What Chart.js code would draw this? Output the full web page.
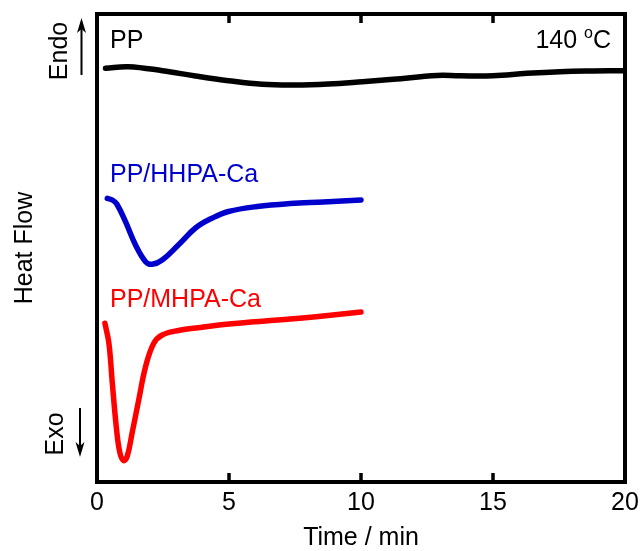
<!DOCTYPE html>
<html><head><meta charset="utf-8">
<script src="https://cdn.jsdelivr.net/npm/chart.js@4/dist/chart.umd.min.js"></script>
<style>html,body{margin:0;padding:0;background:#fff}#wrap{width:641px;height:551px}</style>
</head><body><div id="wrap"><canvas id="c" width="641" height="551"></canvas></div>
<script>
// Time (min) and heat flow (arbitrary units, offset per curve)
const ppTime   = [0.32, 1.19, 2.48, 3.73, 4.98, 6.26, 7.51, 8.76, 10.05, 11.22, 12.89, 13.75, 15.0, 16.29, 17.54, 18.79, 20.0];
const ppHeat   = [413.7, 415.3, 411.3, 406, 401.3, 397.7, 397, 398, 400.3, 402.7, 406.5, 406.2, 406.3, 408.7, 410.3, 411, 411.3];
const hhpaTime = [0.39, 0.58, 0.75, 1.08, 1.46, 1.84, 2.09, 2.47, 3.08, 3.73, 4.37, 4.98, 6.07, 7.32, 8.57, 10.0];
const hhpaHeat = [283.7, 282, 278, 260.3, 237, 220.3, 217.7, 222, 237, 254, 264, 270.5, 275.5, 278.5, 280, 282];
const mhpaTime = [0.30, 0.45, 0.58, 0.73, 0.86, 1.0, 1.14, 1.33, 1.58, 1.84, 2.15, 2.47, 3.08, 3.98, 4.79, 7.32, 8.57, 10.0];
const mhpaHeat = [158.7, 139, 99, 55.3, 30, 21.5, 25.3, 49, 82, 115.3, 138.7, 147, 151.5, 154.7, 157.5, 163, 166, 170];
const xTickValues = [0, 5, 10, 15, 20];
const seriesNames = ['PP', 'PP/HHPA-Ca', 'PP/MHPA-Ca'];
const seriesColors = ['#000000', '#0000CD', '#FF0000'];
const xTitle = 'Time / min';
const yTitle = 'Heat Flow';
const tempLabel = ['140 ', 'o', 'C'];

const FONT = '"Liberation Sans", Arial, sans-serif';
const toXY = (t, v) => t.map((x, i) => ({x: x, y: v[i]}));

const decor = {
  id: 'decor',
  afterDraw(chart) {
    const ctx = chart.ctx, ca = chart.chartArea, xs = chart.scales.x;
    ctx.save();
    // frame
    ctx.strokeStyle = '#000'; ctx.lineWidth = 4;
    ctx.strokeRect(ca.left, ca.top, ca.right - ca.left, ca.bottom - ca.top);
    // inward ticks top & bottom
    ctx.lineWidth = 3.5;
    xTickValues.forEach(v => {
      if (v === xs.min || v === xs.max) return;
      const px = xs.getPixelForValue(v);
      ctx.beginPath();
      ctx.moveTo(px, ca.bottom); ctx.lineTo(px, ca.bottom - 9);
      ctx.moveTo(px, ca.top); ctx.lineTo(px, ca.top + 9);
      ctx.stroke();
    });
    // series labels
    ctx.font = '25px ' + FONT;
    ctx.textBaseline = 'alphabetic';
    ctx.textAlign = 'left';
    const labY = [48, 181.5, 306.5];
    seriesNames.forEach((n, i) => { ctx.fillStyle = seriesColors[i]; ctx.fillText(n, 110, labY[i]); });
    // temperature label (right aligned)
    ctx.fillStyle = '#000';
    const big = '25px ' + FONT, small = '16px ' + FONT;
    ctx.font = big; const w1 = ctx.measureText(tempLabel[0]).width, w3 = ctx.measureText(tempLabel[2]).width;
    ctx.font = small; const w2 = ctx.measureText(tempLabel[1]).width;
    let x0 = 611 - (w1 + w2 + w3);
    ctx.font = big; ctx.fillText(tempLabel[0], x0, 48);
    ctx.font = small; ctx.fillText(tempLabel[1], x0 + w1, 38);
    ctx.font = big; ctx.fillText(tempLabel[2], x0 + w1 + w2, 48);
    // Endo / Exo
    const rot = (txt, x, y) => {
      ctx.save(); ctx.translate(x, y); ctx.rotate(-Math.PI / 2);
      ctx.font = '25px ' + FONT; ctx.textAlign = 'center'; ctx.textBaseline = 'alphabetic';
      ctx.fillText(txt, 0, 0); ctx.restore();
    };
    rot('Endo', 66.5, 51);
    rot('Exo', 63.3, 434);
    const arrow = (x, y1, y2) => {
      const dir = y2 < y1 ? -1 : 1;
      ctx.lineWidth = 2; ctx.beginPath(); ctx.moveTo(x, y1); ctx.lineTo(x, y2 - dir * 10); ctx.stroke();
      ctx.beginPath(); ctx.moveTo(x, y2); ctx.lineTo(x - 4.5, y2 - dir * 15); ctx.lineTo(x, y2 - dir * 11); ctx.lineTo(x + 4.5, y2 - dir * 15); ctx.closePath(); ctx.fill();
    };
    arrow(81.5, 75, 18);
    arrow(80, 408, 457);
    ctx.restore();
  }
};

new Chart(document.getElementById('c'), {
  type: 'line',
  data: {
    datasets: [
      {label: seriesNames[0], data: toXY(ppTime, ppHeat), borderColor: seriesColors[0]},
      {label: seriesNames[1], data: toXY(hhpaTime, hhpaHeat), borderColor: seriesColors[1]},
      {label: seriesNames[2], data: toXY(mhpaTime, mhpaHeat), borderColor: seriesColors[2]}
    ].map(d => Object.assign(d, {borderWidth: 5.5, pointRadius: 0, tension: 0.4, borderCapStyle: 'round', borderJoinStyle: 'round', fill: false}))
  },
  options: {
    responsive: false, animation: false, devicePixelRatio: 1,
    layout: {padding: {left: 0, top: 14, right: 16, bottom: 0}},
    plugins: {legend: {display: false}, tooltip: {enabled: false}},
    scales: {
      x: {
        type: 'linear', min: 0, max: 20,
        afterBuildTicks: s => { s.ticks = xTickValues.map(v => ({value: v})); },
        afterFit: s => { s.height = 69; s.paddingLeft = 0; s.paddingRight = 0; },
        grid: {display: false, drawTicks: false}, border: {display: false},
        ticks: {color: '#000', font: {size: 25, family: FONT}, padding: 6, maxRotation: 0, autoSkip: false},
        title: {display: true, text: xTitle, color: '#000', font: {size: 25, family: FONT, lineHeight: 1}, padding: {top: 0, bottom: 0}}
      },
      y: {
        min: 0, max: 468,
        afterFit: s => { s.width = 97; },
        grid: {display: false, drawTicks: false}, border: {display: false},
        ticks: {display: false},
        title: {display: true, text: yTitle, color: '#000', font: {size: 25, family: FONT, lineHeight: 1}, padding: {top: 13, bottom: 0}}
      }
    }
  },
  plugins: [decor]
});
</script></body></html>
